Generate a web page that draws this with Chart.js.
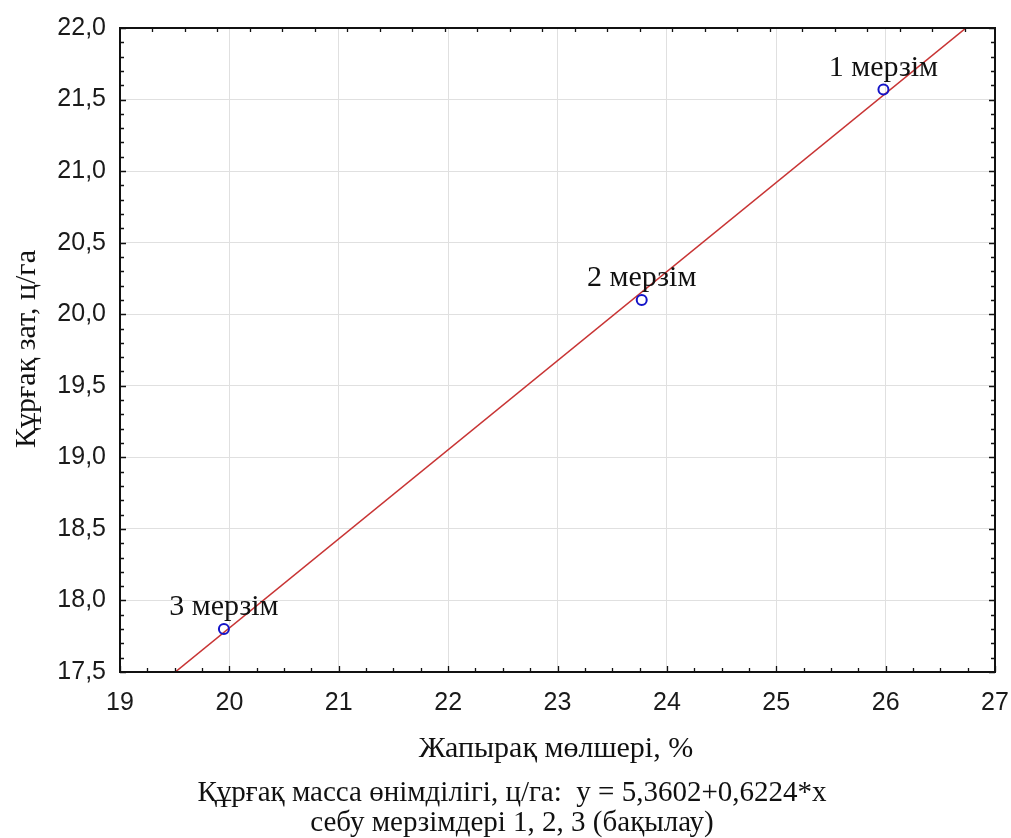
<!DOCTYPE html>
<html><head><meta charset="utf-8">
<script src="https://cdn.jsdelivr.net/npm/chart.js@4/dist/chart.umd.min.js"></script>
<style>html,body{margin:0;padding:0;background:#fff}#wrap{width:1011px;height:838px}</style>
</head><body><div id="wrap"><canvas id="c" width="1011" height="838"></canvas></div>
<script>
const pointLabels = ['1 мерзім', '2 мерзім', '3 мерзім'];
const pointX = [25.98, 23.77, 19.95];
const pointY = [21.57, 20.10, 17.80];
const fitX = [19.505, 26.735];
const fitY = [17.5, 22.0];
const xTicks = [19, 20, 21, 22, 23, 24, 25, 26, 27];
const yTicks = [17.5, 18.0, 18.5, 19.0, 19.5, 20.0, 20.5, 21.0, 21.5, 22.0];
const xTitle = 'Жапырақ мөлшері, %';
const yTitle = 'Құрғақ зат, ц/га';
const captionLines = ['Құрғақ масса өнімділігі, ц/га:  y = 5,3602+0,6224*x', 'себу мерзімдері 1, 2, 3 (бақылау)'];

const serif = '"Liberation Serif", "DejaVu Serif", serif';
const sans = '"Liberation Sans", Arial, sans-serif';

const decor = {
  id: 'decor',
  afterDatasetsDraw(chart) {
    const {ctx, chartArea: a, scales: {x, y}} = chart;
    ctx.save();
    ctx.strokeStyle = '#111';
    ctx.lineWidth = 1.3;
    ctx.beginPath();
    for (let v = 19; v <= 27.0001; v += 0.25) {
      const px = Math.round(x.getPixelForValue(v)) + 0.5;
      const major = Math.abs(v - Math.round(v)) < 1e-6;
      ctx.moveTo(px, a.bottom); ctx.lineTo(px, a.bottom - (major ? 6 : 4));
    }
    for (let v = 19.297; v < 27; v += 0.297) {
      const px = Math.round(x.getPixelForValue(v)) + 0.5;
      ctx.moveTo(px, a.top); ctx.lineTo(px, a.top + 4);
    }
    for (let k = 0; k <= 45; k++) {
      const v = 17.5 + k * 0.1;
      const py = Math.round(y.getPixelForValue(v)) + 0.5;
      const major = k % 5 === 0;
      const L = major ? 6 : 4;
      ctx.moveTo(a.left, py); ctx.lineTo(a.left + L, py);
      ctx.moveTo(a.right, py); ctx.lineTo(a.right - L, py);
    }
    ctx.stroke();
    ctx.lineWidth = 2;
    ctx.strokeRect(a.left, a.top, a.right - a.left, a.bottom - a.top);
    ctx.fillStyle = '#111';
    ctx.font = '30px ' + serif;
    ctx.textAlign = 'center';
    ctx.textBaseline = 'alphabetic';
    pointLabels.forEach((t, i) => {
      const px = x.getPixelForValue(pointX[i]);
      const py = y.getPixelForValue(pointY[i]);
      ctx.fillText(t, px, py - 14);
    });
    ctx.font = '30px ' + serif;
    ctx.fillText(xTitle, 556, 757);
    ctx.font = '29px ' + serif;
    ctx.fillText(captionLines[0], 512, 801);
    ctx.fillText(captionLines[1], 512, 831);
    ctx.save();
    ctx.translate(35, 349);
    ctx.rotate(-Math.PI / 2);
    ctx.font = '30px ' + serif;
    ctx.fillText(yTitle, 0, 0);
    ctx.restore();
    ctx.restore();
  }
};

new Chart(document.getElementById('c'), {
  type: 'scatter',
  data: {
    datasets: [
      {
        label: 'fit',
        data: fitX.map((v, i) => ({x: v, y: fitY[i]})),
        showLine: true,
        borderColor: '#c83434',
        borderWidth: 1.6,
        pointRadius: 0,
        order: 2
      },
      {
        label: 'points',
        data: pointX.map((v, i) => ({x: v, y: pointY[i]})),
        pointRadius: 5,
        pointBorderWidth: 2,
        borderColor: '#1414c8',
        backgroundColor: 'rgba(255,255,255,0)',
        order: 1
      }
    ]
  },
  options: {
    responsive: false,
    animation: false,
    layout: {padding: {left: 0, top: 28, right: 16, bottom: 0}},
    plugins: {legend: {display: false}, tooltip: {enabled: false}},
    scales: {
      x: {
        type: 'linear', min: 19, max: 27,
        afterBuildTicks: s => { s.ticks = xTicks.map(v => ({value: v})); },
        afterFit: s => { s.height = 166; s.paddingLeft = 0; s.paddingRight = 0; },
        grid: {color: '#e0e0e0', lineWidth: 1, drawTicks: false},
        border: {display: false},
        ticks: {color: '#1a1a1a', font: {family: sans, size: 25}, padding: 16, maxRotation: 0,
          callback: v => String(v)}
      },
      y: {
        type: 'linear', min: 17.5, max: 22,
        afterBuildTicks: s => { s.ticks = yTicks.map(v => ({value: v})); },
        afterFit: s => { s.width = 120; s.paddingTop = 0; s.paddingBottom = 0; },
        grid: {color: '#e0e0e0', lineWidth: 1, drawTicks: false},
        border: {display: false},
        ticks: {color: '#1a1a1a', font: {family: sans, size: 25}, padding: 14,
          callback: v => v.toFixed(1).replace('.', ',')}
      }
    }
  },
  plugins: [decor]
});
</script>
</body></html>
